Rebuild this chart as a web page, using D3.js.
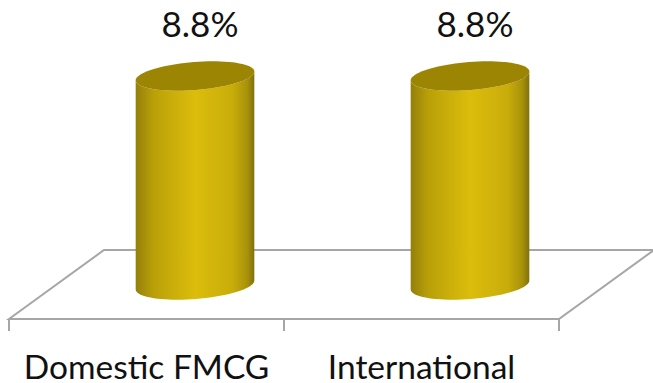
<!DOCTYPE html>
<html>
<head>
<meta charset="utf-8">
<style>
  html, body { margin: 0; padding: 0; background: #fff; }
  svg { display: block; }
  text { font-family: Lato, "Open Sans", sans-serif; fill: #111; }
</style>
<script src="https://cdn.jsdelivr.net/npm/d3@7/dist/d3.min.js"></script>
</head>
<body>
<svg id="chart" width="653" height="383"></svg>
<script>
const categories = ["Domestic FMCG", "International"];
const shares = [8.8, 8.8];

const svg = d3.select("#chart");
const floorFront = { left: 9, right: 559, y: 319 };
const depth = { dx: 95, dy: -69 };
const tickLength = 12;

const x = d3.scaleBand().domain(categories).range([floorFront.left, floorFront.right]);
const y = d3.scaleLinear().domain([0, 8.8]).range([285, 76]);

// Shaded body of each cylinder, dark at the rim and bright in the middle
const defs = svg.append("defs");
const grad = defs.append("linearGradient")
  .attr("id", "cylinderShade")
  .attr("x1", "0%").attr("x2", "100%").attr("y1", "0%").attr("y2", "0%");
[[0, "#94800a"], [0.15, "#b9a008"], [0.5, "#dcbd0c"], [0.82, "#c8ac0a"], [0.94, "#a8920a"], [1, "#7f700e"]]
  .forEach(([o, c]) => grad.append("stop").attr("offset", o).attr("stop-color", c));

// Parallelogram floor, partly hidden by the cylinders
const floorColor = "#a6a6a6";
const backLeft = floorFront.left + depth.dx;
const backRight = floorFront.right + depth.dx;
const backY = floorFront.y + depth.dy;
svg.append("path")
  .attr("d", `M${floorFront.left},${floorFront.y}L${backLeft},${backY}L${backRight},${backY}L${floorFront.right},${floorFront.y}Z`)
  .attr("fill", "none")
  .attr("stroke", floorColor)
  .attr("stroke-width", 2);

// Category axis along the front edge, with ticks at the band boundaries
const axis = svg.append("g").attr("transform", `translate(0,${floorFront.y})`);
const edges = [...categories.map(c => x(c)), floorFront.right];
axis.selectAll("line").data(edges).join("line")
  .attr("x1", d => d).attr("x2", d => d)
  .attr("y1", 0).attr("y2", tickLength)
  .attr("stroke", floorColor).attr("stroke-width", 2);
axis.selectAll("text").data(categories).join("text")
  .attr("x", d => x(d) + x.bandwidth() / 2)
  .attr("y", 60)
  .attr("text-anchor", "middle")
  .attr("font-size", 33.5)
  .text(d => d);

// Cylinders sit halfway back on the floor and lean slightly with the camera tilt
const rx = 59.5, ry = 14, tilt = -4.5 * Math.PI / 180;
const offsetX = depth.dx / 2 + 1;

// Point on a tilted ellipse around (0, cy); angle 0 is the right end, PI/2 the lower edge
const rim = (cy, a) => {
  const px = rx * Math.cos(a), py = ry * Math.sin(a);
  return [px * Math.cos(tilt) - py * Math.sin(tilt), cy + px * Math.sin(tilt) + py * Math.cos(tilt)];
};
const lowerArc = d3.range(0, 41).map(k => k / 40 * Math.PI);
const fullRim = d3.range(0, 80).map(k => k / 80 * 2 * Math.PI);
const outline = d3.line();

const bars = svg.append("g").selectAll("g").data(categories).join("g")
  .attr("transform", d => `translate(${x(d) + x.bandwidth() / 2 + offsetX},0)`);

bars.append("path")
  .attr("fill", "url(#cylinderShade)")
  .attr("d", (d, i) => {
    const topEdge = lowerArc.map(a => rim(y(shares[i]), a)).reverse();
    const baseEdge = lowerArc.map(a => rim(y(0), a));
    return outline([...topEdge, ...baseEdge]) + "Z";
  });

bars.append("path")
  .attr("fill", "#9c8502")
  .attr("d", (d, i) => outline(fullRim.map(a => rim(y(shares[i]), a))) + "Z");

// Value labels above each cylinder
bars.append("text")
  .attr("x", 5)
  .attr("y", 37)
  .attr("text-anchor", "middle")
  .attr("font-size", 35)
  .text((d, i) => d3.format(".1f")(shares[i]) + "%");
</script>
</body>
</html>
